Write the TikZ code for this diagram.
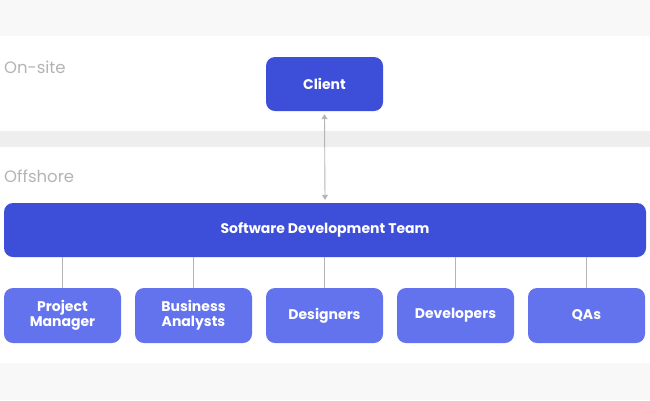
\documentclass[tikz,border=0pt]{standalone}
\usepackage{fontspec}
\setmainfont{Poppins}
\usetikzlibrary{arrows.meta}
\definecolor{dk}{HTML}{3D4ED8}
\definecolor{lt}{HTML}{6373EE}
\definecolor{lbl}{HTML}{B4B4B4}
\definecolor{gap}{HTML}{EEEEEE}
\begin{document}
\begin{tikzpicture}[x=1pt,y=-1pt,
  box/.style={rounded corners=9pt,inner sep=0pt,text=white,font=\fontsize{14}{15}\selectfont\bfseries,align=center},
  dbox/.style={box,fill=dk},
  cbox/.style={box,fill=lt,minimum width=117pt,minimum height=55pt},
  lab/.style={anchor=west,text=lbl,font=\fontsize{16.5}{18}\selectfont,inner sep=0pt},
  conn/.style={draw=lbl,line width=0.9pt}]
\fill[white] (0,0) rectangle (650,400);
\fill[gap!40] (0,0) rectangle (650,36);
\fill[gap] (0,131) rectangle (650,147);
\fill[gap!40] (0,363) rectangle (650,400);
\node[lab] (on) at (4,67) {On-site};
\node[lab] (off) at (4,176) {Offshore};
\node[dbox,minimum width=117pt,minimum height=54pt] (client) at (324.5,84) {Client};
\node[dbox,minimum width=642pt,minimum height=54pt] (team) at (325,230) {Software Development Team};
\node[cbox] (pm) at (62.5,315.5) {Project\\Manager};
\node[cbox] (ba) at (193.5,315.5) {Business\\Analysts};
\node[cbox] (de) at (324.5,315.5) {Designers};
\node[cbox] (dv) at (455.5,315.5) {Developers};
\node[cbox] (qa) at (586.5,315.5) {QAs};
\draw[conn,{Triangle[length=5pt,width=6pt]}-{Triangle[length=5pt,width=6pt]}] ([yshift=-3pt]client.south) -- ([yshift=3pt]team.north);
\foreach \n in {pm,ba,de,dv,qa}
  \draw[conn] (team.south -| \n.north) -- (\n.north);
\end{tikzpicture}
\end{document}
